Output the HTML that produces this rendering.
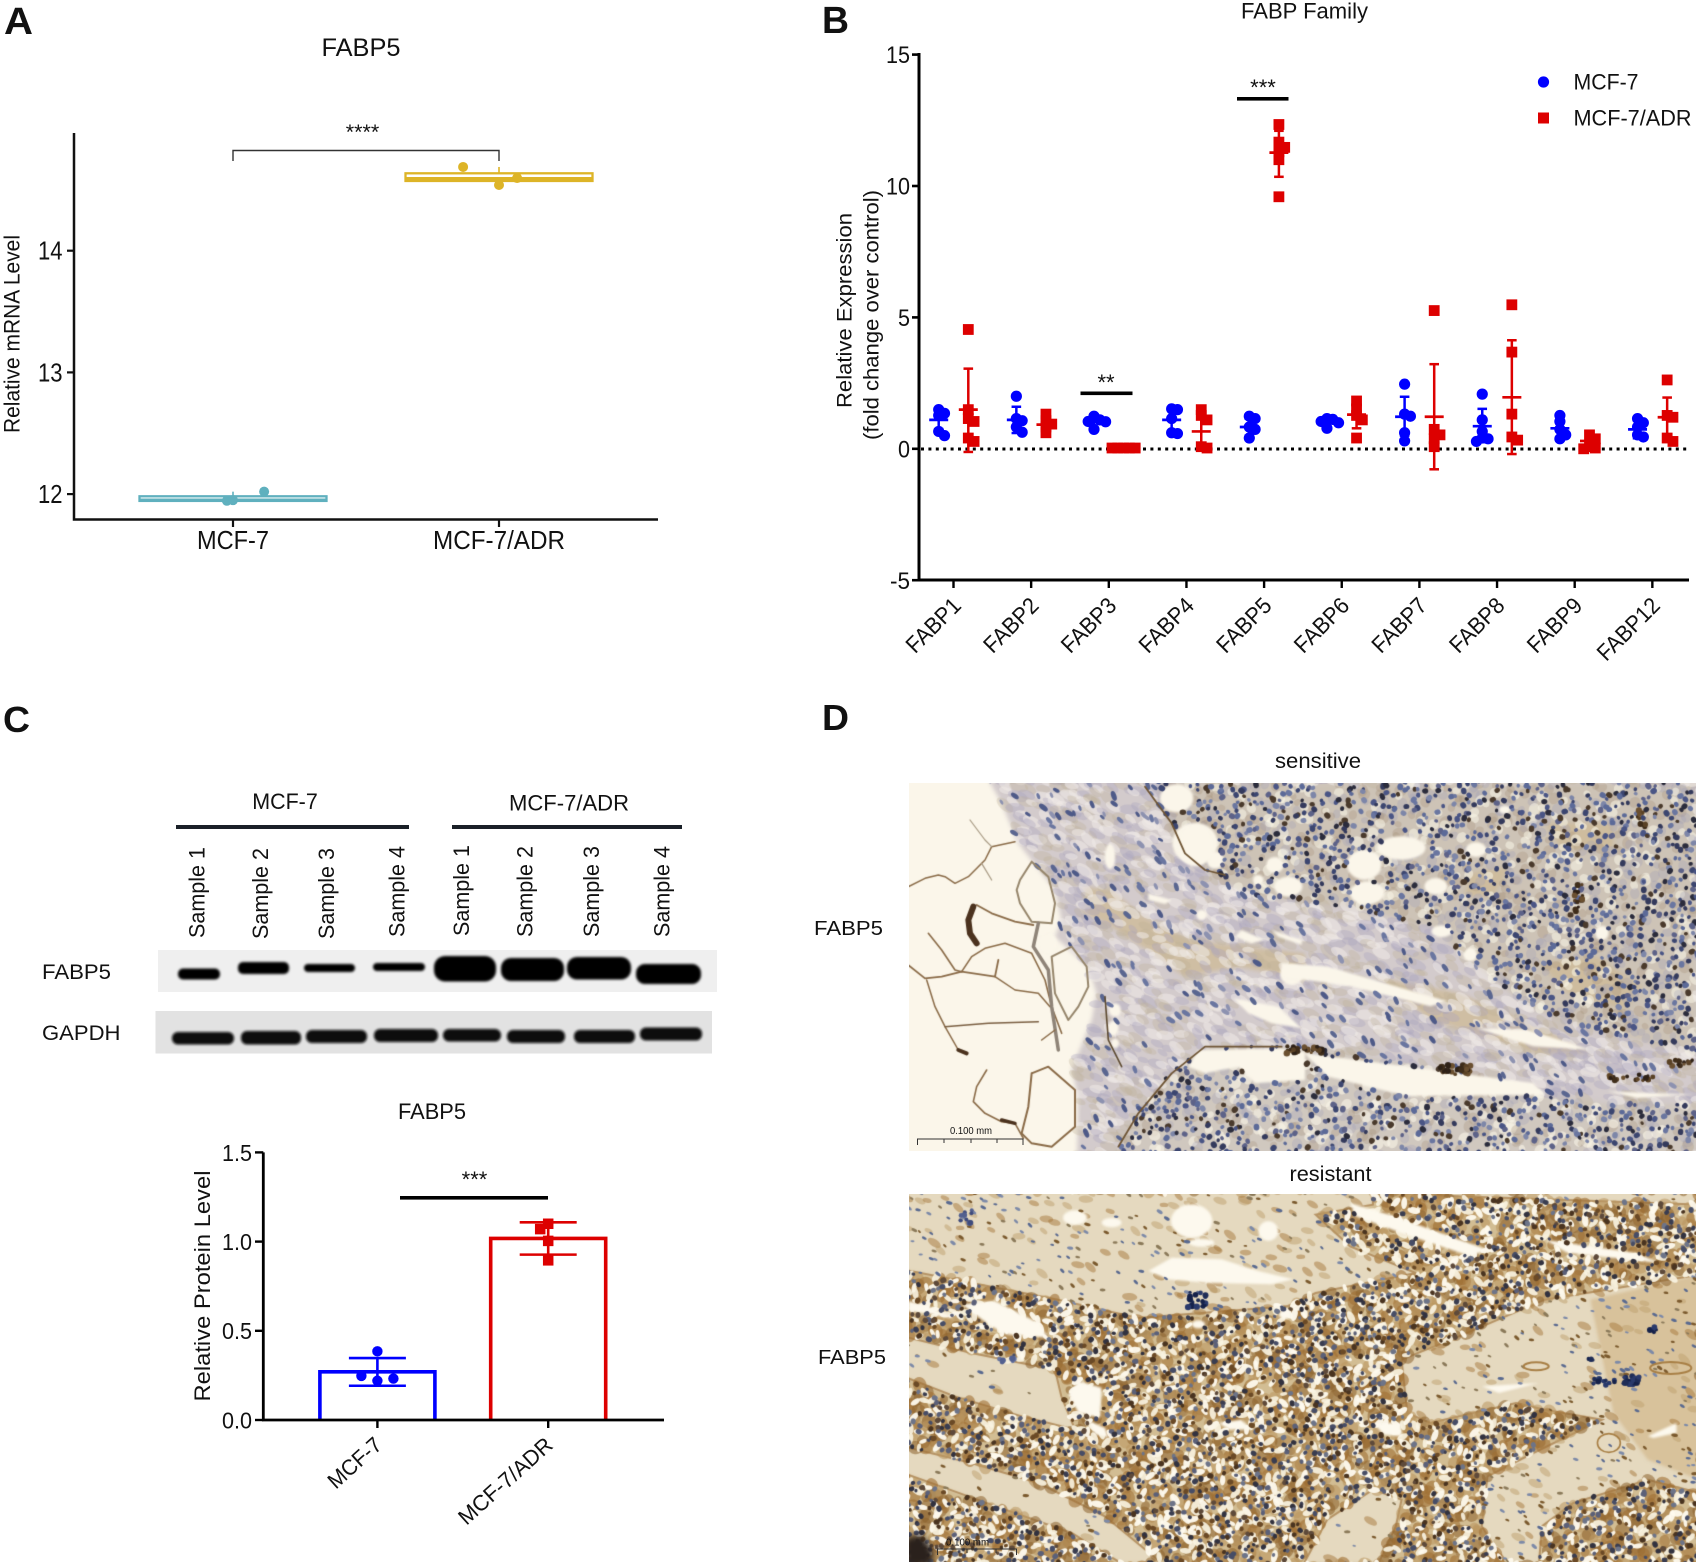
<!DOCTYPE html>
<html lang="en">
<head>
<meta charset="utf-8">
<title>FABP5 figure</title>
<style>
html,body{margin:0;padding:0;background:#fff;}
#stage{position:relative;width:1698px;height:1565px;overflow:hidden;background:#fff;}
canvas{position:absolute;display:block;}
svg{position:absolute;left:0;top:0;}
text{font-family:"Liberation Sans",Arial,sans-serif;fill:#111;}
</style>
</head>
<body>
<div id="stage">
<canvas id="histoSensitive" width="787" height="368" style="left:909px;top:783px"></canvas>
<canvas id="histoResistant" width="787" height="368" style="left:909px;top:1194px"></canvas>
<svg id="fig" width="1698" height="1565" viewBox="0 0 1698 1565" xmlns="http://www.w3.org/2000/svg">
  <defs>
    <filter id="bandBlur" x="-20%" y="-60%" width="140%" height="220%"><feGaussianBlur stdDeviation="1.4"/></filter>
  </defs>

  <!-- Panel letters -->
  <text x="4" y="34" font-size="38" font-weight="700" textLength="29" lengthAdjust="spacingAndGlyphs">A</text>
  <text x="822" y="33" font-size="38" font-weight="700" textLength="27" lengthAdjust="spacingAndGlyphs">B</text>
  <text x="3" y="732" font-size="36" font-weight="700" textLength="27" lengthAdjust="spacingAndGlyphs">C</text>
  <text x="822" y="730" font-size="36" font-weight="700" textLength="27" lengthAdjust="spacingAndGlyphs">D</text>

  <!-- Panel A static -->
  <g id="panelA">
    <text x="361" y="56" font-size="25" text-anchor="middle" textLength="79" lengthAdjust="spacingAndGlyphs">FABP5</text>
    <text transform="translate(19.5,334) rotate(-90)" font-size="22" text-anchor="middle" textLength="198" lengthAdjust="spacingAndGlyphs">Relative mRNA Level</text>
    <path d="M74 133V519.5H658" fill="none" stroke="#111" stroke-width="2.5"/>
    <path d="M233 161V150.5H499V161" fill="none" stroke="#333" stroke-width="1.4"/>
    <text x="362.5" y="139" font-size="21.5" text-anchor="middle">****</text>
  </g>

  <!-- Panel B static -->
  <g id="panelB">
    <text x="1304.5" y="18.5" font-size="22" text-anchor="middle" textLength="127" lengthAdjust="spacingAndGlyphs">FABP Family</text>
    <text transform="translate(851.5,310.5) rotate(-90)" font-size="21" text-anchor="middle" textLength="195" lengthAdjust="spacingAndGlyphs">Relative Expression</text>
    <text transform="translate(878.5,315) rotate(-90)" font-size="21" text-anchor="middle" textLength="250" lengthAdjust="spacingAndGlyphs">(fold change over control)</text>
    <path d="M919 53V580H1689" fill="none" stroke="#000" stroke-width="3"/>
    <line x1="921" x2="1689" y1="449" y2="449" stroke="#000" stroke-width="3" stroke-dasharray="3 4.4"/>
    <rect x="1080.5" y="391.5" width="52" height="3.6" fill="#000"/>
    <text x="1106" y="390" font-size="22" text-anchor="middle">**</text>
    <rect x="1237" y="97" width="51.5" height="3.6" fill="#000"/>
    <text x="1263" y="95" font-size="22" text-anchor="middle">***</text>
    <g>
      <circle cx="1543.5" cy="82" r="5.6" fill="#0000ff"/>
      <text x="1573.5" y="89.5" font-size="22.5" textLength="65" lengthAdjust="spacingAndGlyphs">MCF-7</text>
      <rect x="1538" y="112.5" width="11" height="11" fill="#dd0000"/>
      <text x="1573.5" y="125.5" font-size="22.5" textLength="118" lengthAdjust="spacingAndGlyphs">MCF-7/ADR</text>
    </g>
  </g>

  <!-- Panel C western blot -->
  <g id="panelCBlot">
    <text x="285" y="809" font-size="22" text-anchor="middle" textLength="65.5" lengthAdjust="spacingAndGlyphs">MCF-7</text>
    <text x="569" y="810.5" font-size="22" text-anchor="middle" textLength="120" lengthAdjust="spacingAndGlyphs">MCF-7/ADR</text>
    <rect x="176" y="825" width="233" height="4" fill="#1a2028"/>
    <rect x="452" y="825" width="230" height="4" fill="#1a2028"/>
    <text transform="translate(204.5,938) rotate(-90)" font-size="22" textLength="91" lengthAdjust="spacingAndGlyphs">Sample 1</text>
    <text transform="translate(268,939) rotate(-90)" font-size="22" textLength="91" lengthAdjust="spacingAndGlyphs">Sample 2</text>
    <text transform="translate(334,939) rotate(-90)" font-size="22" textLength="91" lengthAdjust="spacingAndGlyphs">Sample 3</text>
    <text transform="translate(404.5,937) rotate(-90)" font-size="22" textLength="91" lengthAdjust="spacingAndGlyphs">Sample 4</text>
    <text transform="translate(469,936) rotate(-90)" font-size="22" textLength="91" lengthAdjust="spacingAndGlyphs">Sample 1</text>
    <text transform="translate(532.5,937) rotate(-90)" font-size="22" textLength="91" lengthAdjust="spacingAndGlyphs">Sample 2</text>
    <text transform="translate(599,937) rotate(-90)" font-size="22" textLength="91" lengthAdjust="spacingAndGlyphs">Sample 3</text>
    <text transform="translate(669.5,937) rotate(-90)" font-size="22" textLength="91" lengthAdjust="spacingAndGlyphs">Sample 4</text>
    <text x="42" y="979" font-size="21" textLength="69" lengthAdjust="spacingAndGlyphs">FABP5</text>
    <text x="42" y="1040" font-size="21" textLength="78.5" lengthAdjust="spacingAndGlyphs">GAPDH</text>
    <rect x="158" y="950" width="559" height="42" fill="#efefef"/>
    <rect x="155.5" y="1011" width="556.5" height="42.5" fill="#e2e2e2"/>
    <g filter="url(#bandBlur)" fill="#050505">
      <rect x="178" y="968.5" width="42" height="11" rx="5"/>
      <rect x="238" y="962" width="51" height="12" rx="5"/>
      <rect x="304" y="964" width="51" height="8" rx="4"/>
      <rect x="373" y="963" width="52" height="8" rx="4"/>
      <rect x="434" y="956" width="62" height="25.5" rx="11"/>
      <rect x="501" y="958" width="63" height="23" rx="10"/>
      <rect x="567" y="957" width="64" height="22.5" rx="10"/>
      <rect x="636" y="964" width="65" height="20" rx="9"/>
    </g>
    <g filter="url(#bandBlur)" fill="#0a0a0a">
      <rect x="172" y="1032" width="62" height="12.5" rx="6"/>
      <rect x="241" y="1031" width="60" height="13.5" rx="6"/>
      <rect x="306" y="1030" width="61" height="13" rx="6"/>
      <rect x="374" y="1029" width="64" height="13" rx="6"/>
      <rect x="443" y="1029" width="58" height="12.5" rx="6"/>
      <rect x="507" y="1030" width="58" height="13" rx="6"/>
      <rect x="574" y="1030" width="61" height="13" rx="6"/>
      <rect x="640" y="1027.5" width="62" height="13" rx="6"/>
    </g>
  </g>

  <!-- Panel C bar chart static -->
  <g id="panelC">
    <text x="432" y="1119" font-size="22" text-anchor="middle" textLength="68" lengthAdjust="spacingAndGlyphs">FABP5</text>
    <text transform="translate(210,1286) rotate(-90)" font-size="22" text-anchor="middle" textLength="231" lengthAdjust="spacingAndGlyphs">Relative Protein  Level</text>
    <rect x="400" y="1196" width="148" height="3.6" fill="#000"/>
    <text x="474.5" y="1187" font-size="22" text-anchor="middle">***</text>
  </g>

  <!-- Panel D labels -->
  <g id="panelD">
    <text x="1318" y="768" font-size="21" text-anchor="middle" textLength="86" lengthAdjust="spacingAndGlyphs">sensitive</text>
    <text x="814" y="935" font-size="20.5" textLength="69" lengthAdjust="spacingAndGlyphs">FABP5</text>
    <text x="1330.5" y="1181" font-size="21" text-anchor="middle" textLength="82" lengthAdjust="spacingAndGlyphs">resistant</text>
    <text x="818" y="1364" font-size="20.5" textLength="68" lengthAdjust="spacingAndGlyphs">FABP5</text>
    <g>
      <text x="950" y="1134" font-size="10.5" textLength="42" lengthAdjust="spacingAndGlyphs">0.100 mm</text>
      <path d="M917.5 1145V1139H1023V1145M944 1139V1143M971 1139V1143M997 1139V1143" fill="none" stroke="#333" stroke-width="1"/>
    </g>
    <g>
      <text x="946" y="1545.5" font-size="10.5" textLength="43" lengthAdjust="spacingAndGlyphs">0.100 mm</text>
      <path d="M937.5 1555V1549H1016.5V1555M967 1549V1553M996 1549V1553" fill="none" stroke="#333" stroke-width="1"/>
    </g>
  </g>
</svg>
</div>

<script>
// ---------- Panel A data ----------
const mrnaCategories = ['MCF-7', 'MCF-7/ADR'];
const mrnaTicks = [12, 13, 14];
const mrnaPointsMcf7 = [12.02, 11.945, 11.95];
const mrnaPointsAdr = [14.688, 14.54, 14.597];
const mrnaJitterMcf7 = [0.117, -0.023, 0];
const mrnaJitterAdr = [-0.135, 0, 0.068];
const mrnaBoxMcf7 = [11.944, 11.952, 11.982];
const mrnaBoxAdr = [14.573, 14.593, 14.636];
const mrnaWhiskerMcf7 = [11.95, 12.02];
const mrnaWhiskerAdr = [14.575, 14.688];

// ---------- Panel B data ----------
const familyCategories = ['FABP1','FABP2','FABP3','FABP4','FABP5','FABP6','FABP7','FABP8','FABP9','FABP12'];
const familyTicks = [-5, 0, 5, 10, 15];
const familyPointsMcf7 = [
  [1.49,1.35,1.27,0.66,0.5],
  [2.0,1.15,1.07,0.83,0.63],
  [1.24,1.1,1.04,1.03,0.74],
  [1.52,1.49,1.15,0.61,0.58],
  [1.24,1.15,0.83,0.74,0.41],
  [1.15,1.12,1.04,0.99,0.78],
  [2.46,1.32,1.24,0.61,0.3],
  [2.08,1.1,0.66,0.41,0.38,0.28],
  [1.27,1.04,0.74,0.53,0.38],
  [1.15,0.99,0.83,0.53,0.45]
];
const familyPointsAdr = [
  [4.54,1.49,1.15,1.04,0.41,0.28],
  [1.32,1.07,0.94,0.83,0.61],
  [0.03,0.03,0.03,0.03,0.03],
  [1.49,1.27,1.1,0.08,0.03],
  [12.34,11.67,11.47,11.3,11.0,9.59],
  [1.82,1.52,1.27,1.1,0.41],
  [5.26,0.74,0.53,0.38,0.08],
  [5.48,3.68,1.32,0.45,0.33],
  [0.53,0.38,0.08,0.03,0.0],
  [2.62,1.27,1.2,0.41,0.28]
];
const familyMeanMcf7 = [1.1,1.1,1.03,1.1,0.83,1.04,1.22,0.86,0.78,0.74];
const familySdTopMcf7 = [1.45,1.6,1.3,1.55,1.15,1.22,1.98,1.52,1.2,1.1];
const familySdBottomMcf7 = [0.75,0.6,0.78,0.6,0.5,0.85,0.5,0.25,0.38,0.4];
const familyMeanAdr = [1.49,0.92,0.03,0.66,11.27,1.3,1.22,1.96,0.3,1.2];
const familySdTopAdr = [3.05,1.2,0.05,1.45,12.1,1.73,3.22,4.13,0.55,1.95];
const familySdBottomAdr = [-0.12,0.6,0.01,-0.05,10.35,0.78,-0.78,-0.2,0.03,0.4];

// ---------- Panel C data ----------
const proteinCategories = ['MCF-7', 'MCF-7/ADR'];
const proteinTicks = ['0.0', '0.5', '1.0', '1.5'];
const proteinBars = [0.27, 1.018];
const proteinSdTop = [0.347, 1.108];
const proteinSdBottom = [0.192, 0.927];
const proteinPointsMcf7 = [0.385, 0.22, 0.232, 0.247];
const proteinPointsAdr = [1.1, 1.07, 1.004, 0.895];

// ---------- Axis functions ----------
const yA = v => 250.7 + (14 - v) * 121.7;
const xA = i => 233 + 266 * i;
const yB = v => 448.8 - v * 26.28;
const xB = i => 953.5 + 77.65 * i;
const yC = v => 1420 - v * 178.4;
const xC = i => 377.4 + 170.8 * i;

const NS = 'http://www.w3.org/2000/svg';
function make(tag, attrs, parent) {
  const e = document.createElementNS(NS, tag);
  for (const k in attrs) e.setAttribute(k, attrs[k]);
  parent.appendChild(e);
  return e;
}
function addLine(parent, x1, y1, x2, y2, color, width, name) {
  const l = make('line', {x1, y1, x2, y2, stroke: color, 'stroke-width': width}, parent);
  
  
  return l;
}
function addLabel(parent, str, attrs, name) {
  const t = make('text', attrs, parent);
  t.textContent = str;
  
  
  return t;
}
function addDot(parent, cx, cy, r, color, name) {
  const c = make('circle', {cx, cy, r, fill: color}, parent);
  
  
  return c;
}
function addSquare(parent, cx, cy, s, color, name) {
  const q = make('rect', {x: cx - s / 2, y: cy - s / 2, width: s, height: s, fill: color}, parent);
  
  
  return q;
}
// Beeswarm placement: points keep their y; x spreads only when markers collide
function swarm(values, yFn, step, minDist, leftFirst) {
  const placed = [];
  const sign = leftFirst ? -1 : 1;
  return values.map(v => {
    const y = yFn(v);
    const cand = [0, sign, -sign, 2 * sign, -2 * sign, 3 * sign, -3 * sign];
    let off = 0;
    for (const c of cand) {
      const dx = c * step;
      if (placed.every(p => Math.hypot(p[0] - dx, p[1] - y) >= minDist)) { off = dx; break; }
      off = dx;
    }
    placed.push([off, y]);
    return off;
  });
}

// ---------- Draw Panel A ----------
const gA = document.getElementById('panelA');
const TEAL = '#5fb0be', GOLD = '#ddb427';
mrnaTicks.forEach(t => {
  addLine(gA, 67, yA(t), 74, yA(t), '#111', 2.2, 'mrna-y-tick');
  addLabel(gA, String(t), {x: 62.5, y: yA(t) + 9, 'font-size': 26, 'text-anchor': 'end', textLength: 24.5, lengthAdjust: 'spacingAndGlyphs'}, 'mrna-y-tick-label');
});
mrnaCategories.forEach((c, i) => {
  addLine(gA, xA(i), 519.5, xA(i), 527, '#111', 2.2, 'mrna-x-tick');
  addLabel(gA, c, {x: xA(i), y: 549, 'font-size': 26, 'text-anchor': 'middle', textLength: i ? 132 : 72, lengthAdjust: 'spacingAndGlyphs'}, 'mrna-x-tick-label');
});
function drawBox(i, box, whisk, pts, jit, color, name) {
  const halfW = 93.5, cx = xA(i);
  addLine(gA, cx, yA(whisk[0]), cx, yA(whisk[1]), color, 1.6, name + '-whisker');
  const r = make('rect', {x: cx - halfW, y: yA(box[2]), width: 2 * halfW, height: yA(box[0]) - yA(box[2]), fill: '#fff', stroke: color, 'stroke-width': 2.3}, gA);
  
  
  addLine(gA, cx - halfW, yA(box[1]), cx + halfW, yA(box[1]), color, 3, name + '-median');
  pts.forEach((v, k) => addDot(gA, cx + jit[k] * 266, yA(v), 5, color, name + '-point'));
}
drawBox(0, mrnaBoxMcf7, mrnaWhiskerMcf7, mrnaPointsMcf7, mrnaJitterMcf7, TEAL, 'mrna-mcf7');
drawBox(1, mrnaBoxAdr, mrnaWhiskerAdr, mrnaPointsAdr, mrnaJitterAdr, GOLD, 'mrna-adr');

// ---------- Draw Panel B ----------
const gB = document.getElementById('panelB');
const BLUE = '#0000ff', RED = '#dd0000';
familyTicks.forEach(t => {
  addLine(gB, 912, yB(t), 919, yB(t), '#000', 2.6, 'family-y-tick');
  const s = String(t);
  addLabel(gB, s, {x: 910, y: yB(t) + 8.6, 'font-size': 24, 'text-anchor': 'end', textLength: s.length * 12 - (t < 0 ? 4 : 0), lengthAdjust: 'spacingAndGlyphs'}, 'family-y-tick-label');
});
familyCategories.forEach((c, i) => {
  addLine(gB, xB(i), 580, xB(i), 588, '#000', 2.4, 'family-x-tick');
  addLabel(gB, c, {transform: 'translate(' + (xB(i) + 9) + ',607) rotate(-45)', 'font-size': 23, 'text-anchor': 'end', textLength: i === 9 ? 78 : 67, lengthAdjust: 'spacingAndGlyphs'}, 'family-x-tick-label');
  drawGroup(xB(i) - 14.8, familyPointsMcf7[i], familyMeanMcf7[i], familySdTopMcf7[i], familySdBottomMcf7[i], BLUE, false);
  drawGroup(xB(i) + 14.8, familyPointsAdr[i], familyMeanAdr[i], familySdTopAdr[i], familySdBottomAdr[i], RED, true);
});
function drawGroup(cx, pts, mean, top, bottom, color, square) {
  const off = swarm(pts, yB, 5.8, 5.6, false);
  pts.forEach((v, k) => {
    if (square) addSquare(gB, cx + off[k], yB(v), 10.8, color, 'family-adr-point');
    else addDot(gB, cx + off[k], yB(v), 5.6, color, 'family-mcf7-point');
  });
  addLine(gB, cx, yB(top), cx, yB(bottom), color, 2.5, 'family-error-bar');
  addLine(gB, cx - 4.8, yB(top), cx + 4.8, yB(top), color, 2.5, 'family-error-cap');
  addLine(gB, cx - 4.8, yB(bottom), cx + 4.8, yB(bottom), color, 2.5, 'family-error-cap');
  addLine(gB, cx - 9.5, yB(mean), cx + 9.5, yB(mean), color, 2.7, 'family-mean-line');
}

// ---------- Draw Panel C bars ----------
const gC = document.getElementById('panelC');
const barColors = [BLUE, RED];
proteinCategories.forEach((c, i) => {
  const cx = xC(i), hw = 57.5;
  const p = make('path', {d: 'M' + (cx - hw) + ' ' + yC(0) + 'V' + yC(proteinBars[i]) + 'H' + (cx + hw) + 'V' + yC(0), fill: 'none', stroke: barColors[i], 'stroke-width': 3.6}, gC);
  
  
  const pts = i ? proteinPointsAdr : proteinPointsMcf7;
  const off = swarm(pts, yC, i ? 8 : 16, 8, i === 1);
  pts.forEach((v, k) => {
    if (i) addSquare(gC, cx + off[k], yC(v), 10.5, RED, 'protein-adr-point');
    else addDot(gC, cx + off[k], yC(v), 5.2, BLUE, 'protein-mcf7-point');
  });
  addLine(gC, cx, yC(proteinSdTop[i]), cx, yC(proteinSdBottom[i]), barColors[i], 2.6, 'protein-error-bar');
  addLine(gC, cx - 28.5, yC(proteinSdTop[i]), cx + 28.5, yC(proteinSdTop[i]), barColors[i], 2.6, 'protein-error-cap');
  addLine(gC, cx - 28.5, yC(proteinSdBottom[i]), cx + 28.5, yC(proteinSdBottom[i]), barColors[i], 2.6, 'protein-error-cap');
  addLine(gC, cx, yC(0), cx, 1428, '#000', 2.4, 'protein-x-tick');
  addLabel(gC, c, {transform: 'translate(' + (cx + 6) + ',1447) rotate(-42)', 'font-size': 22, 'text-anchor': 'end', textLength: i ? 118 : 64, lengthAdjust: 'spacingAndGlyphs'}, 'protein-x-tick-label');
});
const proteinAxes = make('path', {d: 'M263.3 ' + yC(1.5) + 'V' + yC(0) + 'H664', fill: 'none', stroke: '#000', 'stroke-width': 2.8}, gC);


proteinTicks.forEach(t => {
  const v = parseFloat(t);
  addLine(gC, 255, yC(v), 263.3, yC(v), '#000', 2.4, 'protein-y-tick');
  addLabel(gC, t, {x: 252, y: yC(v) + 8.4, 'font-size': 23, 'text-anchor': 'end', textLength: 30, lengthAdjust: 'spacingAndGlyphs'}, 'protein-y-tick-label');
});

// ---------- Histology textures (painted decoration, not chart data) ----------
let seed = 48271;
function R() { seed = (seed * 16807) % 2147483647; return seed / 2147483647; }
function pick(a) { return a[Math.floor(R() * a.length)]; }

function painter(id, y0) {
  const cv = document.getElementById(id), ctx = cv.getContext('2d');
  // coarse map coordinates (whole-image view)
  const mx = x => (x - 190) / 1.746, my = y => (y - y0) / 3;
  // fine crop coordinates (3x view of the left half)
  const fx = x => x / 3 - 4, fy = y => y / 3 - 3;
  const build = (pts, X, Y) => {
    const p = new Path2D();
    for (let i = 0; i < pts.length; i += 2) {
      if (i === 0) p.moveTo(X(pts[i]), Y(pts[i + 1]));
      else p.lineTo(X(pts[i]), Y(pts[i + 1]));
    }
    return p;
  };
  const path = pts => { const p = build(pts, mx, my); p.closePath(); return p; };
  const fpath = pts => { const p = build(pts, fx, fy); p.closePath(); return p; };
  const fline = (pts, color, w) => {
    ctx.strokeStyle = color; ctx.lineWidth = w; ctx.lineJoin = 'round'; ctx.lineCap = 'round';
    ctx.stroke(build(pts, fx, fy));
  };
  const oval = (holes, cx, cy, rx, ry) => {
    const p = new Path2D();
    p.ellipse(mx(cx), my(cy), rx / 1.746, ry / 3, 0, 0, Math.PI * 2);
    if (holes) holes.addPath(p);
    return p;
  };
  const foval = (holes, cx, cy, rx, ry) => {
    const p = new Path2D();
    p.ellipse(fx(cx), fy(cy), rx / 3, ry / 3, 0, 0, Math.PI * 2);
    if (holes) holes.addPath(p);
    return p;
  };
  return {cv, ctx, mx, my, fx, fy, path, fpath, fline, oval, foval};
}
function scatter(g, regions, step) {
  const {cv, ctx} = g;
  for (let y = -step; y < cv.height + step; y += step) {
    for (let x = -step; x < cv.width + step; x += step) {
      const px = x + R() * step, py = y + R() * step;
      let reg = null;
      for (const r of regions) if (ctx.isPointInPath(r.path, px, py)) { reg = r; break; }
      if (!reg || R() > reg.density) continue;
      ctx.fillStyle = pick(reg.colors);
      const rx = reg.size * (0.7 + R() * 0.6), ry = rx * (reg.elong ? 0.5 : 0.85);
      ctx.beginPath();
      ctx.ellipse(px, py, rx, ry, reg.angle !== undefined ? reg.angle + (R() - .5) * 0.8 : R() * 3.14, 0, Math.PI * 2);
      ctx.fill();
    }
  }
}
function cluster(g, cx, cy, rx, ry, n, colors) {
  const {ctx, mx, my} = g;
  for (let i = 0; i < n; i++) {
    ctx.fillStyle = pick(colors);
    ctx.beginPath();
    ctx.arc(mx(cx + (R() * 2 - 1) * rx), my(cy + (R() * 2 - 1) * ry), 1.5 + R() * 1.8, 0, Math.PI * 2);
    ctx.fill();
  }
}

// Sensitive tissue
(function () {
  const g = painter('histoSensitive', 250), {ctx, path, fpath, fline, oval, foval} = g;
  const CREAM = '#fbf6ea';
  const fat = fpath([-20,-20,240,-20,290,70,340,190,450,330,470,420,450,470,550,560,575,640,560,720,500,870,520,950,515,1200,-20,1200]);
  const nestTop = path([620,250,1565,250,1565,1060,1400,1000,1280,930,1180,800,1100,680,950,620,800,590,720,530,650,430]);
  const nestBottom = path([555,1360,590,1240,649,1110,718,1040,900,1040,1050,1090,1200,1130,1300,1180,1400,1210,1565,1215,1565,1360]);
  const all = new Path2D(); all.rect(-20, -20, 830, 410);
  const holes = new Path2D();

  ctx.fillStyle = '#d3cbcc'; ctx.fillRect(0, 0, 787, 368);
  ctx.filter = 'blur(2px)';
  ctx.fillStyle = CREAM; ctx.fill(fat);
  ctx.fillStyle = '#cdc3b6'; ctx.fill(nestTop);
  ctx.fillStyle = '#d0c8bf'; ctx.fill(nestBottom);
  // tan smooth-muscle patches in the stroma and nests
  ctx.fillStyle = 'rgba(205,186,150,.75)';
  ctx.fill(fpath([540,320,620,330,700,400,860,480,1200,520,1200,600,1000,560,840,590,740,520,620,440,540,400]));
  ctx.fill(path([1000,830,1150,880,1300,990,1380,1060,1280,1060,1100,960]));
  ctx.fill(path([1290,790,1390,770,1470,860,1440,930,1340,880]));
  ctx.fill(path([1300,370,1420,370,1420,450,1330,450]));
  ctx.fill(path([1170,520,1240,500,1210,590,1160,590]));
  ctx.filter = 'none';

  // soft texture
  scatter(g, [
    {path: fat, density: 0, colors: ['#fff'], size: 1},
    {path: nestTop, density: .55, colors: ['rgba(250,245,232,.55)','rgba(160,140,115,.28)','rgba(150,150,185,.25)'], size: 5},
    {path: nestBottom, density: .55, colors: ['rgba(250,245,232,.6)','rgba(160,140,115,.28)','rgba(150,150,185,.25)'], size: 5},
    {path: all, density: .75, colors: ['rgba(240,235,232,.55)','rgba(170,162,190,.35)','rgba(190,175,150,.3)'], size: 8, elong: true, angle: .45}
  ], 8);

  // white voids
  ctx.filter = 'blur(1px)';
  ctx.fillStyle = CREAM;
  [[870,190,68,62],[815,55,50,42],[930,240,26,26],[1110,255,26,24],[1150,320,42,30],[1060,300,16,16],[615,230,16,38],[630,690,18,20],[625,745,16,22],[630,790,12,14],
   [890,405,16,16],[1160,585,34,30],[430,490,26,28]].forEach(h => ctx.fill(foval(holes, h[0], h[1], h[2], h[3])));
  [[690,440,30,60],[985,495,30,45],[990,580,30,35],[1050,445,42,35],[1180,450,18,22],[1120,695,18,18],[1400,700,12,22],[1170,765,12,20],[1110,560,20,25],[1230,330,10,12]]
    .forEach(h => ctx.fill(oval(holes, h[0], h[1], h[2], h[3])));
  const slits = [
    fpath([880,810,1130,805,1200,815,1200,900,1050,910,1000,860,900,880,850,860]),
    fpath([985,655,1120,680,1190,745,1100,730,1030,700]),
    fpath([730,340,800,360,780,372,730,360]),
    fpath([1010,450,1080,480,1040,490,990,470]),
    fpath([1100,450,1190,480,1190,495,1120,470]),
    path([880,1060,1280,1150,1300,1185,1060,1190,920,1130]),
    path([1180,985,1270,990,1380,1050,1280,1040]),
    path([840,790,920,800,1130,905,1100,920,960,860,840,830]),
    path([1410,1175,1560,1185,1460,1195])
  ];
  slits.forEach(s => { ctx.fill(s); holes.addPath(s); });
  ctx.filter = 'none';

  // nuclei
  const nestCells = ['#4a5585','#3c4670','#5c6a98','#6a76a0','#343a5c','#2b2c3c','#4a3a2c','#7d86a8','#5d6288'];
  const stromaCells = ['#5a6690','#6a76a0','#4e5a88','#8d92b0'];
  scatter(g, [
    {path: fat, density: 0, colors: ['#fff'], size: 1},
    {path: holes, density: 0, colors: ['#fff'], size: 1},
    {path: nestTop, density: .62, colors: nestCells, size: 2.7},
    {path: nestBottom, density: .62, colors: nestCells, size: 2.7},
    {path: all, density: .13, colors: stromaCells, size: 4, elong: true, angle: .9}
  ], 6.5);

  // nest-edge stain and fat membranes
  const B = '#8a6b48', D = '#4b321e', L = '#a89a84';
  fline([720,20,800,130,840,220,900,270,960,285], '#6f5535', 1.8);
  fline([640,1100,700,1000,800,880,900,800,1130,800], '#6f5535', 1.8);
  fline([345,300,380,245,430,290,450,370,440,430,380,425,345,370,335,330,345,300], '#96866c', 2);
  fline([440,530,500,500,545,560,550,620,520,680,490,720,450,640,440,530], '#96866c', 2);
  fline([380,880,430,860,510,930,510,1040,440,1100,380,1090,350,1060,370,980,380,880], B, 2);
  fline([10,320,60,295,100,285,120,290,150,310,190,290,240,240,260,200,330,185], B, 1.5);
  fline([195,120,240,180,260,200], L, 1.2);
  fline([230,250,260,300], L, 1.2);
  fline([215,375,260,400,330,425,385,435], B, 1.8);
  fline([70,460,110,510,150,570,170,575,200,530,240,505,300,490,380,520,420,600,440,680,470,760], B, 1.6);
  fline([10,555,60,595,110,590,170,575,270,590,280,540], B, 1.8);
  fline([270,590,330,630,400,640,435,680], B, 1.5);
  fline([65,600,90,680,120,740,160,810,185,820], B, 1.5);
  fline([120,740,250,730,400,725], '#7a5f42', 1.5);
  fline([400,430,385,500,430,570,440,680,460,810], '#8f8478', 3.5);
  fline([410,780,450,750], B, 1.5);
  fline([245,870,215,920,205,965,240,1000,290,1025,330,1030,355,1075], B, 1.6);
  fline([600,650,610,780,650,860], '#5d4a30', 1.6);
  fline([205,380,190,420,195,460,215,490], D, 6);
  fline([160,810,185,820], D, 4);
  fline([290,1020,330,1030], D, 3.5);
  // dark stain clusters
  const stain = ['#3f2d1a','#5a4226','#2e2117','#6b5030'];
  cluster(g, 880, 1050, 32, 12, 26, stain);
  cluster(g, 1145, 1110, 30, 14, 30, stain);
  cluster(g, 1450, 1135, 40, 10, 20, stain);
  cluster(g, 1360, 590, 8, 45, 14, stain);
  cluster(g, 1540, 1090, 24, 10, 14, stain);
  cluster(g, 1470, 360, 8, 30, 10, stain);
})();

// Resistant tissue
(function () {
  const g = painter('histoResistant', 103), {ctx, path, fpath, fline, oval, foval} = g;
  const CREAM = '#fdf9ee';
  const all = new Path2D(); all.rect(-20, -20, 830, 410);
  const topStroma = path([180,95,1000,95,1000,135,900,165,960,260,1075,340,900,400,850,440,590,475,450,420,300,370,180,330]);
  const stromaPolys = [
    topStroma,
    path([1000,95,1570,95,1570,135,1400,125,1150,110]),
    path([1570,345,1300,420,1150,530,1050,600,1060,760,1100,790,1250,730,1300,750,1400,780,1280,880,1200,950,1190,1100,1230,1210,1290,1210,1295,1100,1350,1030,1480,960,1570,1000]),
    path([180,530,299,580,445,630,456,710,480,810,387,770,270,710,180,650]),
    path([180,860,299,910,416,970,532,1070,631,1210,560,1210,474,1120,358,1050,180,940]),
    path([880,1210,920,1080,1000,990,1050,1020,1040,1100,1010,1210])
  ];
  const holes = new Path2D();

  ctx.fillStyle = '#d2bd93'; ctx.fillRect(0, 0, 787, 368);
  ctx.filter = 'blur(1.5px)';
  ctx.fillStyle = '#e5d9bf';
  stromaPolys.forEach(p => ctx.fill(p));
  // deeper tan on the right and at the top of the section
  ctx.fillStyle = 'rgba(205,175,125,.55)';
  ctx.fill(path([1380,420,1570,345,1570,960,1480,900,1420,760]));
  ctx.filter = 'none';
  ctx.strokeStyle = 'rgba(170,130,80,.75)'; ctx.lineWidth = 2;
  stromaPolys.forEach(p => ctx.stroke(p));

  const tumor = {path: all};
  // tan cytoplasm patches
  scatter(g, stromaPolys.map((p, i) => ({path: p, density: i === 0 ? .16 : (i === 2 ? .1 : .02), colors: ['rgba(165,120,60,.5)','rgba(190,160,110,.5)'], size: 6, elong: true, angle: .4}))
    .concat([Object.assign({}, tumor, {density: .78, colors: ['rgba(160,112,52,.6)','rgba(140,98,45,.55)','rgba(185,150,95,.55)'], size: 6.5})]), 8);
  // white slits between cells
  scatter(g, stromaPolys.map(p => ({path: p, density: 0, colors: ['#fff'], size: 1}))
    .concat([Object.assign({}, tumor, {density: .62, colors: ['rgba(254,250,238,.95)','rgba(250,244,226,.9)'], size: 5.2, elong: true})]), 8);

  // white lumina
  ctx.filter = 'blur(1px)';
  ctx.fillStyle = CREAM;
  [
    fpath([730,240,800,200,950,205,1060,240,1165,265,1100,280,900,275,790,265]),
    fpath([170,340,270,330,400,395,430,440,300,430,250,400]),
    fpath([10,330,70,345,150,385,80,370,10,360]),
    fpath([490,610,520,570,590,590,585,680,520,665]),
    fpath([550,690,600,710,610,740,570,730]),
    path([960,130,1030,165,1200,270,1170,290,1050,220,970,170]),
    path([1300,240,1460,280,1500,310,1340,280]),
    path([1480,830,1530,790,1530,820,1490,835]),
    path([1000,790,1050,790,1050,830,1020,825]),
    path([730,790,770,780,790,810,750,810]),
    path([1190,680,1290,670,1220,700])
  ].forEach(p => { ctx.fill(p); holes.addPath(p); });
  [[860,90,62,50],[510,80,36,22],[1090,120,30,30],[890,155,38,12],[620,95,30,14],[880,400,20,12],[1140,370,18,14]]
    .forEach(h => ctx.fill(foval(holes, h[0], h[1], h[2], h[3])));
  ctx.filter = 'none';

  // nuclei
  const tumorCells = ['#3a3d50','#474d66','#5b6078','#4a3420','#6b4a26','#32323f','#5e4a3a','#6d7488'];
  const stromaCells = ['#7d8aa8','#8b7a5a','#5a6a90','#7b5a2e'];
  scatter(g, [{path: holes, density: 0, colors: ['#fff'], size: 1}]
    .concat(stromaPolys.map((p, i) => ({path: p, density: i === 0 || i === 2 ? .16 : .06, colors: stromaCells, size: 2.6, elong: true, angle: .4})))
    .concat([Object.assign({}, tumor, {density: .55, colors: tumorCells, size: 2.5})]), 6);

  // blue pigment, vessels and dark corner
  const ink = ['#1f2d57','#16224a','#2a3a6c'];
  cluster(g, 693, 420, 16, 24, 22, ink);
  cluster(g, 1425, 662, 40, 14, 34, ink);
  cluster(g, 1490, 510, 8, 8, 6, ink);
  cluster(g, 1380, 600, 5, 6, 3, ink);
  cluster(g, 290, 170, 10, 24, 9, ['#53608f','#3f4b7c']);
  cluster(g, 360, 605, 16, 10, 6, ['#6a76a0','#53608f']);
  ctx.lineWidth = 2; ctx.strokeStyle = '#a87f45';
  ctx.stroke(oval(null, 1520, 625, 36, 18));
  ctx.stroke(oval(null, 1285, 620, 22, 12));
  ctx.lineWidth = 1.6;
  ctx.stroke(oval(null, 1412, 850, 20, 28));
  ctx.filter = 'blur(3px)';
  ctx.fillStyle = '#2a211c';
  ctx.fill(fpath([0,1040,50,1030,85,1080,80,1125,0,1125]));
  ctx.filter = 'none';
})();
</script>
</body>
</html>
